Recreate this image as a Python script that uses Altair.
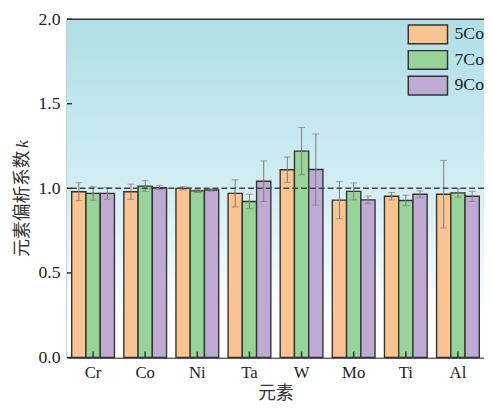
import altair as alt
import pandas as pd

elements = ["Cr", "Co", "Ni", "Ta", "W", "Mo", "Ti", "Al"]
series = ["5Co", "7Co", "9Co"]
colors = ["#f9c392", "#98d399", "#bfaad4"]
v5 = [0.98, 0.98, 1.00, 0.97, 1.11, 0.93, 0.953, 0.965]
v7 = [0.97, 1.013, 0.985, 0.922, 1.22, 0.982, 0.928, 0.973]
v9 = [0.97, 1.004, 0.99, 1.042, 1.111, 0.932, 0.965, 0.953]
e5 = [0.053, 0.045, 0.01, 0.08, 0.075, 0.11, 0.022, 0.2]
e7 = [0.04, 0.032, 0.01, 0.043, 0.14, 0.05, 0.031, 0.025]
e9 = [0.035, 0.012, 0.006, 0.12, 0.21, 0.022, 0.02, 0.03]
y_ticks = [0.0, 0.5, 1.0, 1.5, 2.0]

rows = []
for s, vals, errs in zip(series, [v5, v7, v9], [e5, e7, e9]):
    for el, v, e in zip(elements, vals, errs):
        rows.append({"element": el, "series": s, "value": v, "lo": v - e, "hi": v + e})
df = pd.DataFrame(rows)

W, H = 424, 344
SERIF = "Liberation Serif"
CJK = "Noto Sans CJK SC"
DARK = "#333333"

x_enc = alt.X(
    "element:N", sort=elements,
    scale=alt.Scale(paddingInner=0.18, paddingOuter=0.09),
    axis=alt.Axis(title="元素", labelAngle=0, labelPadding=7, titlePadding=5),
)
y_scale = alt.Scale(domain=[0, 2], nice=False)
y_axis = alt.Axis(title="元素偏析系数", values=y_ticks, format=".1f", labelPadding=7,
                  labelFont=SERIF, labelFontSize=18,
                  titleX=-45, titleY=187, titleAngle=270, titleAlign="center",
                  titleBaseline="middle")
y_enc = alt.Y("value:Q", scale=y_scale, axis=y_axis)
xoff = alt.XOffset("series:N", sort=series)

bg = alt.Chart(alt.Data(values=[{"a": 1}])).mark_rect(
    fill=alt.Gradient(
        gradient="linear", x1=0, y1=0, x2=0, y2=1,
        stops=[alt.GradientStop(offset=0, color="#b0dee7"),
               alt.GradientStop(offset=0.5, color="#d3edf3"),
               alt.GradientStop(offset=0.88, color="#ffffff"),
               alt.GradientStop(offset=1, color="#ffffff")],
    )
).encode(x=alt.value(0), x2=alt.value(W), y=alt.value(0), y2=alt.value(H))

base = alt.Chart(df)

bars = base.mark_bar(stroke=DARK, strokeWidth=1.4).encode(
    x=x_enc, xOffset=xoff, y=y_enc,
    color=alt.Color(
        "series:N", scale=alt.Scale(domain=series, range=colors),
        legend=alt.Legend(
            title=None, orient="none", legendX=346, legendY=5, padding=0,
            symbolType="M-1,-1L3.2,-1L3.2,1L-1,1Z", symbolSize=361,
            symbolStrokeColor=DARK, symbolStrokeWidth=1.5, symbolOpacity=1,
            labelOffset=27, rowPadding=1, labelFont=SERIF, labelFontSize=18,
            labelColor="#222", labelLimit=200,
        ),
    ),
)

ecol = "#7a7a7a"
err = base.mark_rule(color=ecol, strokeWidth=1).encode(
    x=x_enc, xOffset=xoff, y=alt.Y("lo:Q", scale=y_scale, axis=y_axis), y2="hi:Q"
)
cap_lo = base.mark_tick(color=ecol, thickness=1, size=7, orient="horizontal").encode(
    x=x_enc, xOffset=xoff, y=alt.Y("lo:Q", scale=y_scale, axis=y_axis)
)
cap_hi = base.mark_tick(color=ecol, thickness=1, size=7, orient="horizontal").encode(
    x=x_enc, xOffset=xoff, y=alt.Y("hi:Q", scale=y_scale, axis=y_axis)
)

ref = alt.Chart(alt.Data(values=[{"r": 1.0}])).mark_rule(
    color="#444", strokeDash=[6, 3], strokeWidth=1.5
).encode(y=alt.Y("r:Q", scale=y_scale, axis=y_axis))

top = alt.Chart(alt.Data(values=[{"r": 2.0}])).mark_rule(
    color=DARK, strokeWidth=1.5
).encode(y=alt.Y("r:Q", scale=y_scale, axis=y_axis))

yt = alt.Chart(pd.DataFrame({"t": y_ticks})).mark_rule(color=DARK, strokeWidth=1.5).encode(
    y=alt.Y("t:Q", scale=y_scale, axis=y_axis), x=alt.value(0), x2=alt.value(5)
)
xt = alt.Chart(pd.DataFrame({"element": elements})).mark_rule(color=DARK, strokeWidth=1.5).encode(
    x=x_enc, y=alt.value(H), y2=alt.value(H - 6)
)

kmark = alt.Chart(alt.Data(values=[{"k": "k"}])).mark_text(
    font=SERIF, fontStyle="italic", fontSize=18, angle=270, align="center",
    baseline="middle", color="#333"
).encode(text="k:N", x=alt.value(-45), y=alt.value(127))

chart = alt.layer(bg, bars, err, cap_lo, cap_hi, ref, top, yt, xt, kmark).properties(
    width=W, height=H,
    autosize=alt.AutoSizeParams(type="none"),
    padding={"left": 60, "top": 8, "right": 0, "bottom": 47},
).configure_view(
    stroke="transparent"
).configure_axis(
    labelFont=SERIF, labelFontSize=17, labelColor="#222", ticks=False, grid=False,
    titleFont=CJK, titleFontSize=18, titleFontWeight="normal", titleColor="#333",
    domainColor=DARK, domainWidth=1.5,
)

chart.save("out.html", embed_options={"renderer": "svg", "actions": False})
